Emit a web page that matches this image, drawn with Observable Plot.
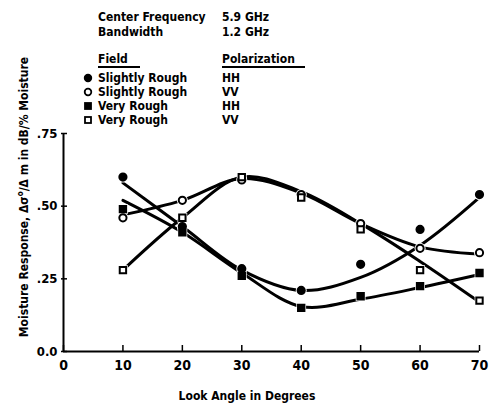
<!DOCTYPE html>
<html><head><meta charset="utf-8">
<script src="https://cdn.jsdelivr.net/npm/d3@7"></script>
<script src="https://cdn.jsdelivr.net/npm/@observablehq/plot@0.6"></script>
<style>
body{margin:0;background:#fff;}
#wrap{position:relative;width:495px;height:407px;font-family:"DejaVu Sans Condensed","Liberation Sans Narrow",sans-serif;font-weight:bold;color:#000;overflow:hidden;}
#wrap svg{position:absolute;left:0;top:0;}
.t{position:absolute;font-size:12px;white-space:nowrap;line-height:12px;}
.u{border-bottom:2px solid #000;padding-bottom:1px;}
.sym{position:absolute;}
</style></head><body><div id="wrap"></div>
<script>
// ---- data ----
const angles = [10, 20, 30, 40, 50, 60, 70];
const seriesNames = ["Slightly Rough HH", "Slightly Rough VV", "Very Rough HH", "Very Rough VV"];
const fieldNames = ["Slightly Rough", "Slightly Rough", "Very Rough", "Very Rough"];
const polarizations = ["HH", "VV", "HH", "VV"];
// measured points
const srHH = [0.60, 0.43, 0.285, 0.21, 0.30, 0.42, 0.54];
const srVV = [0.46, 0.52, 0.59, 0.54, 0.44, 0.355, 0.34];
const vrHH = [0.49, 0.41, 0.26, 0.15, 0.19, 0.225, 0.27];
const vrVV = [0.28, 0.46, 0.60, 0.53, 0.42, 0.28, 0.175];
// fitted curves
const srHHFit = [0.58, 0.43, 0.28, 0.21, 0.255, 0.365, 0.53];
const srVVFit = [0.47, 0.52, 0.595, 0.545, 0.44, 0.36, 0.335];
const vrHHFit = [0.52, 0.41, 0.27, 0.155, 0.18, 0.22, 0.265];
const vrVVFit = [0.28, 0.46, 0.60, 0.55, 0.44, 0.31, 0.17];
const xTicks = [0, 10, 20, 30, 40, 50, 60, 70];
const yTicks = [0, 0.25, 0.5, 0.75];
const yTickLabels = ["0.0", ".25", ".50", ".75"];
const headerRows = [["Center Frequency", "5.9 GHz"], ["Bandwidth", "1.2 GHz"]];
const xLabel = "Look Angle in Degrees";

// ---- build tables ----
const measured = [srHH, srVV, vrHH, vrVV];
const fits = [srHHFit, srVVFit, vrHHFit, vrVVFit];
const symbols = ["circle", "circle", "square", "square"];
const filled = [true, false, true, false];
const points = [], fitRows = [];
measured.forEach((arr, s) => arr.forEach((v, i) => points.push({series: seriesNames[s], angle: angles[i], value: v, symbol: symbols[s], filled: filled[s]})));
fits.forEach((arr, s) => arr.forEach((v, i) => fitRows.push({series: seriesNames[s], angle: angles[i], value: v})));

const font = '"DejaVu Sans Condensed","Liberation Sans Narrow",sans-serif';
const W = 495, H = 407, mL = 63, mR = 16, mT = 133, mB = 56;
const frameW = W - mL - mR, frameH = H - mT - mB;

const chart = Plot.plot({
  width: W, height: H,
  marginLeft: mL, marginRight: mR, marginTop: mT, marginBottom: mB,
  style: {fontFamily: font, fontWeight: "bold", fontSize: "13px", background: "transparent", color: "#000"},
  x: {domain: [0, 70]},
  y: {domain: [0, 0.75]},
  marks: [
    Plot.ruleX([0], {stroke: "#000", strokeWidth: 2}),
    Plot.ruleY([0], {stroke: "#000", strokeWidth: 2}),
    Plot.tickX(xTicks, {x: d => d, insetTop: frameH - 6, stroke: "#000", strokeWidth: 1.5}),
    Plot.tickY(yTicks, {y: d => d, insetRight: frameW - 6, dx: -2, stroke: "#000", strokeWidth: 1.5}),
    Plot.axisX(xTicks, {tickSize: 0, tickPadding: 9, fontSize: 14, label: null}),
    Plot.axisY(yTicks, {tickSize: 0, tickPadding: 6, fontSize: 13, label: null, tickFormat: d => yTickLabels[yTicks.indexOf(d)]}),
    Plot.line(fitRows, {x: "angle", y: "value", z: "series", curve: "catmull-rom", stroke: "#000", strokeWidth: 3}),
    Plot.dot(points, {x: "angle", y: "value", r: 5.5, fill: "#fff", stroke: "none", symbol: "symbol"}),
    Plot.dot(points, {x: "angle", y: "value", r: 3.6, symbol: "symbol", fill: d => d.filled ? "#000" : "#fff", stroke: "#000", strokeWidth: 2})
  ]
});
const wrap = document.getElementById("wrap");
wrap.appendChild(chart);

function addText(txt, left, top, cls) {
  const d = document.createElement("div");
  d.className = "t" + (cls ? " " + cls : "");
  d.style.left = left + "px"; d.style.top = top + "px";
  d.textContent = txt;
  wrap.appendChild(d);
  return d;
}
headerRows.forEach((r, i) => { addText(r[0], 98, 11 + i * 15); addText(r[1], 222, 11 + i * 15); });
const fld = addText("Field", 98, 53, "u");
fld.style.width = "42px";
const pol = addText("Polarization", 222, 53, "u");
pol.style.width = "83px";
seriesNames.forEach((s, i) => {
  const top = 72 + i * 14;
  addText(fieldNames[i], 98, top);
  addText(polarizations[i], 222, top);
  const ns = "http://www.w3.org/2000/svg";
  const svg = document.createElementNS(ns, "svg");
  svg.setAttribute("width", 10); svg.setAttribute("height", 10);
  svg.setAttribute("class", "sym");
  svg.style.left = "83px"; svg.style.top = (top + 1) + "px";
  let el;
  if (symbols[i] === "circle") { el = document.createElementNS(ns, "circle"); el.setAttribute("cx", 5); el.setAttribute("cy", 5); el.setAttribute("r", 3.3); }
  else { el = document.createElementNS(ns, "rect"); el.setAttribute("x", 2); el.setAttribute("y", 2); el.setAttribute("width", 6); el.setAttribute("height", 6); }
  el.setAttribute("fill", filled[i] ? "#000" : "#fff"); el.setAttribute("stroke", "#000"); el.setAttribute("stroke-width", 1.8);
  svg.appendChild(el); wrap.appendChild(svg);
});
const xl = addText(xLabel, 247, 390);
xl.style.transform = "translateX(-50%)";
const yl = document.createElement("div");
yl.className = "t";
yl.style.left = "22px"; yl.style.top = "197px";
yl.style.transform = "translate(-50%,-50%) rotate(-90deg)";
yl.innerHTML = "Moisture Response, &Delta;&sigma;<sup style='font-size:8px;vertical-align:5px'>o</sup>/&Delta; m in dB/% Moisture";
wrap.appendChild(yl);
</script></body></html>
